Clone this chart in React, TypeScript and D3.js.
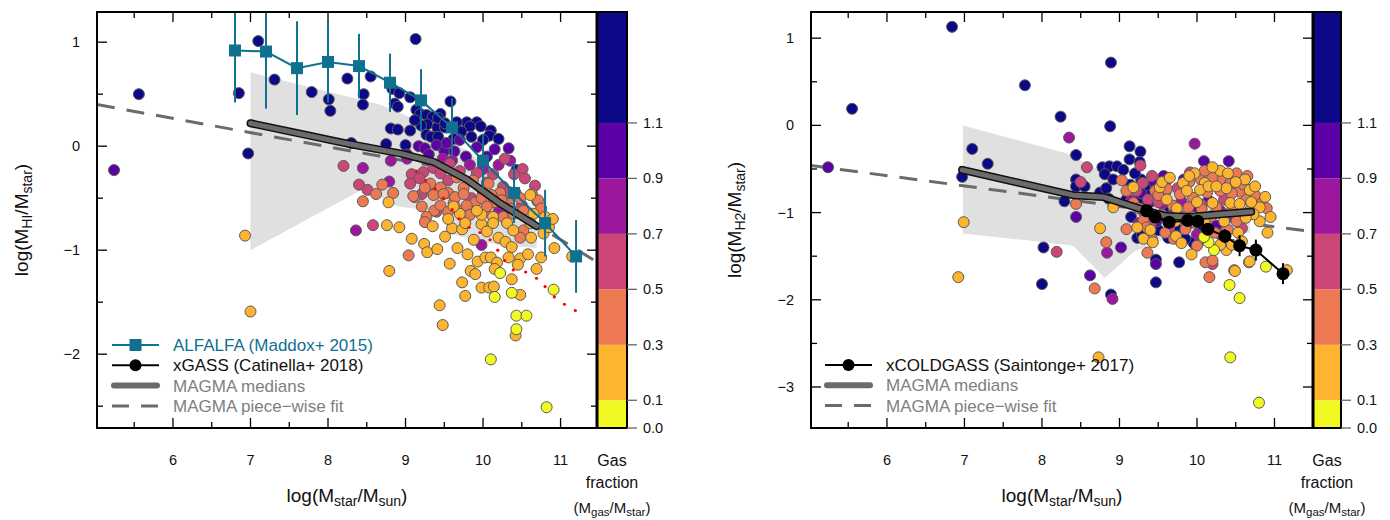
import React from 'react';
import * as d3 from 'd3';

const FONT = '"Liberation Sans", Arial, Helvetica, sans-serif';

// colour bins of the gas fraction bar
const fracBins = [0, 0.1, 0.3, 0.5, 0.7, 0.9, 1.1, 1.5];
const fracTicks = [0.0, 0.1, 0.3, 0.5, 0.7, 0.9, 1.1];
const binColors = d3.range(7).map(i => d3.interpolatePlasma(1 - i / 6));

const xMajor = [6, 7, 8, 9, 10, 11];
const xMinor = [5.5, 6.5, 7.5, 8.5, 9.5, 10.5];

// ---------- HI panel ----------
// [logMstar, logMHI/Mstar, gas fraction]
const hiPoints: number[][] = [
  // navy
  [5.56,0.50,1.3],[7.10,1.01,1.3],[6.85,0.51,1.3],[7.31,0.64,1.3],[7.79,0.52,1.3],[6.97,-0.07,1.3],[8.01,0.45,1.3],[8.03,0.34,1.3],
  [8.25,0.65,1.3],[8.55,0.67,1.3],[8.46,0.50,1.3],[8.45,0.40,1.3],[8.81,0.17,1.3],[8.75,0.02,1.3],[8.30,0.03,1.3],[9.13,1.03,1.3],
  [8.83,0.55,1.3],[8.92,0.51,1.3],[8.86,0.41,1.3],[8.90,0.38,1.3],[9.06,0.47,1.3],[9.14,0.35,1.3],[9.19,0.31,1.3],[9.27,0.30,1.3],
  [9.35,0.28,1.3],[9.45,0.31,1.3],[9.58,0.43,1.3],[9.28,0.21,1.3],[9.41,0.18,1.3],[9.51,0.18,1.3],[9.27,0.11,1.3],[9.33,0.09,1.3],
  [9.42,0.09,1.3],[8.90,0.16,1.3],[9.06,0.15,1.3],[9.00,0.01,1.3],[9.79,0.23,1.3],[9.92,0.23,1.3],[9.83,0.19,1.3],[9.97,0.19,1.3],
  [9.85,0.09,1.3],[10.10,0.15,1.3],[10.08,0.10,1.3],[10.20,0.07,1.3],[10.43,-0.23,1.3],[9.42,0.27,1.3],[9.51,0.22,1.3],[9.66,0.23,1.3],
  [9.72,0.14,1.3],[10.00,0.06,1.3],[9.62,0.07,1.3],[9.20,0.20,1.3],[9.12,0.25,1.3],
  // purple
  [5.24,-0.23,1.0],[9.17,0.00,1.0],[9.25,-0.02,1.0],[9.40,0.01,1.0],[9.50,-0.05,1.0],[9.53,0.03,1.0],[9.70,0.06,1.0],[9.63,-0.05,1.0],
  [9.78,-0.10,1.0],[9.92,-0.01,1.0],[10.05,-0.10,1.0],[10.33,-0.02,1.0],[9.30,-0.08,1.0],[10.15,-0.03,1.0],[9.02,-0.08,1.0],
  // magenta
  [8.45,-0.21,0.8],[8.81,-0.14,0.8],[8.79,-0.34,0.8],[8.36,-0.81,0.8],[9.48,-0.12,0.8],[9.83,-0.18,0.8],[10.20,-0.18,0.8],[10.35,-0.14,0.8],
  [9.02,-0.12,0.8],[10.20,-0.63,0.8],[9.98,-0.95,0.8],[9.60,-0.14,0.8],[10.00,-0.22,0.8],
  // pink
  [8.20,-0.19,0.6],[8.40,-0.37,0.6],[8.51,-0.42,0.6],[8.58,-0.76,0.6],[9.57,-0.17,0.6],[9.36,-0.21,0.6],[9.23,-0.25,0.6],[9.08,-0.27,0.6],
  [9.06,-0.36,0.6],[9.18,-0.31,0.6],[9.45,-0.26,0.6],[9.70,-0.24,0.6],[9.92,-0.26,0.6],[10.13,-0.27,0.6],[10.28,-0.12,0.6],[10.51,-0.22,0.6],
  [10.54,-0.31,0.6],[10.67,-0.38,0.6],[10.26,-0.39,0.6],[10.40,-0.27,0.6],[9.21,-0.46,0.6],[9.85,-0.50,0.6],[10.33,-0.44,0.6],[10.50,-0.57,0.6],
  [9.40,-0.63,0.6],[9.55,-0.33,0.6],[10.05,-0.35,0.6],
  // coral
  [8.62,-0.46,0.4],[8.45,-0.53,0.4],[8.70,-0.37,0.4],[8.84,-0.45,0.4],[9.32,-0.36,0.4],[9.66,-0.30,0.4],[9.87,-0.33,0.4],[10.07,-0.36,0.4],
  [9.12,-0.49,0.4],[9.25,-0.40,0.4],[9.38,-0.46,0.4],[9.45,-0.40,0.4],[9.55,-0.45,0.4],[9.62,-0.55,0.4],[9.75,-0.40,0.4],[9.90,-0.54,0.4],
  [10.00,-0.45,0.4],[10.14,-0.54,0.4],[10.22,-0.45,0.4],[10.33,-0.55,0.4],[10.42,-0.45,0.4],[10.63,-0.46,0.4],[10.70,-0.53,0.4],[9.21,-0.58,0.4],
  [9.37,-0.62,0.4],[9.69,-0.62,0.4],[9.85,-0.63,0.4],[10.02,-0.62,0.4],[9.10,-0.48,0.4],[9.36,-0.47,0.4],[9.49,-0.46,0.4],[9.64,-0.49,0.4],
  [9.75,-0.46,0.4],[9.98,-0.50,0.4],[10.11,-0.47,0.4],[10.24,-0.52,0.4],[10.48,-0.50,0.4],[10.71,-0.52,0.4],[9.27,-0.68,0.4],[9.45,-0.57,0.4],
  [9.55,-0.63,0.4],[9.79,-0.57,0.4],[9.83,-0.66,0.4],[10.05,-0.58,0.4],[10.26,-0.68,0.4],[10.35,-0.60,0.4],[10.39,-0.65,0.4],[10.52,-0.62,0.4],
  [9.25,-0.73,0.4],[10.52,-0.81,0.4],[9.04,-1.05,0.4],[10.48,-0.88,0.4],[10.75,-0.60,0.4],
  // orange
  [6.93,-0.86,0.2],[7.00,-1.59,0.2],[8.78,-0.54,0.2],[8.76,-0.76,0.2],[8.92,-0.78,0.2],[8.79,-1.20,0.2],[9.08,-0.89,0.2],[9.24,-0.94,0.2],
  [9.28,-1.02,0.2],[9.41,-0.99,0.2],[9.57,-1.13,0.2],[9.67,-0.98,0.2],[9.80,-1.04,0.2],[9.51,-0.87,0.2],[9.60,-0.79,0.2],[9.73,-0.80,0.2],
  [9.88,-0.90,0.2],[9.98,-0.75,0.2],[10.05,-0.82,0.2],[10.20,-0.88,0.2],[10.29,-0.92,0.2],[10.37,-0.97,0.2],[9.93,-1.11,0.2],[10.03,-1.07,0.2],
  [10.10,-1.07,0.2],[10.18,-1.12,0.2],[10.33,-1.07,0.2],[10.48,-1.08,0.2],[10.58,-1.04,0.2],[10.45,-1.14,0.2],[10.15,-1.18,0.2],[9.84,-1.20,0.2],
  [9.90,-1.23,0.2],[10.37,-1.28,0.2],[9.73,-1.31,0.2],[9.98,-1.36,0.2],[10.08,-1.36,0.2],[10.14,-1.35,0.2],[9.77,-1.44,0.2],[10.48,-1.43,0.2],
  [10.69,-1.18,0.2],[10.75,-1.07,0.2],[10.92,-0.98,0.2],[9.44,-1.53,0.2],[9.48,-1.72,0.2],[10.42,-1.82,0.2],[11.15,-1.06,0.2],[10.78,-0.84,0.2],
  [10.61,-0.47,0.2],[9.70,-0.65,0.2],[9.98,-0.66,0.2],[10.13,-0.68,0.2],[10.65,-0.65,0.2],[10.80,-0.68,0.2],[9.62,-0.58,0.2],[9.92,-0.62,0.2],
  [9.77,-0.74,0.2],[10.13,-0.74,0.2],[10.31,-0.74,0.2],[10.39,-0.81,0.2],[10.61,-0.74,0.2],[10.62,-0.88,0.2],[10.85,-0.78,0.2],[10.90,-0.70,0.2],
  [9.35,-0.77,0.2],[9.55,-0.70,0.2],
  // yellow
  [10.22,-1.22,0.05],[10.15,-1.45,0.05],[10.37,-1.41,0.05],[10.91,-1.38,0.05],[10.43,-1.63,0.05],[10.56,-1.63,0.05],[10.43,-1.76,0.05],
  [10.10,-2.05,0.05],[10.82,-2.51,0.05],
];

const hiRedDots: number[][] = [
  [9.14,-0.24],[9.26,-0.33],[9.38,-0.41],[9.49,-0.50],[9.60,-0.61],[9.69,-0.70],[9.82,-0.78],[9.96,-0.83],[10.09,-0.90],
  [10.19,-1.00],[10.28,-1.10],[10.39,-1.19],[10.55,-1.21],[10.69,-1.27],[10.80,-1.35],[10.92,-1.45],[11.05,-1.52],[11.19,-1.58],
];

const alfalfaX = [6.8, 7.2, 7.6, 8.0, 8.4, 8.8, 9.2, 9.6, 10.0, 10.4, 10.8, 11.2];
const alfalfaY = [0.92, 0.91, 0.75, 0.81, 0.77, 0.61, 0.44, 0.18, -0.14, -0.45, -0.74, -1.06];
const alfalfaErr = [0.5, 0.55, 0.45, 0.39, 0.31, 0.28, 0.3, 0.28, 0.26, 0.29, 0.32, 0.35];

const hiMedian = [[7.0,0.22],[7.64,0.12],[8.28,0.02],[8.93,-0.07],[9.36,-0.15],[9.79,-0.32],[10.2,-0.54],[10.69,-0.77]];
const hiFit = [[5.02,0.40],[9.5,-0.21],[11.47,-1.115]];
const hiBand = [
  [7.0,0.71],[8.67,0.40],[9.3,0.2],[9.8,-0.05],[10.3,-0.35],[10.69,-0.62],
  [10.69,-0.98],[10.2,-0.95],[9.6,-0.85],[9.45,-0.63],[8.9,-0.58],[8.46,-0.41],[7.0,-1.0],
];

// ---------- H2 panel ----------
const h2Points: number[][] = [
  // navy
  [5.55,0.19,1.3],[6.84,1.13,1.3],[7.78,0.46,1.3],[8.24,0.10,1.3],[7.10,-0.27,1.3],[7.30,-0.44,1.3],[6.97,-0.59,1.3],[8.44,-0.34,1.3],
  [8.44,-0.62,1.3],[8.44,-0.70,1.3],[8.55,-0.70,1.3],[8.29,-0.87,1.3],[8.02,-1.40,1.3],[8.00,-1.82,1.3],[8.89,-1.94,1.3],[9.47,-1.54,1.3],
  [9.47,-1.80,1.3],[9.77,-1.57,1.3],[8.89,0.72,1.3],[8.88,-0.01,1.3],[9.13,-0.24,1.3],[9.27,-0.30,1.3],[9.13,-0.39,1.3],[9.26,-0.42,1.3],
  [8.78,-0.48,1.3],[8.87,-0.47,1.3],[8.97,-0.47,1.3],[9.05,-0.51,1.3],[8.81,-0.56,1.3],[8.92,-0.62,1.3],[8.75,-0.77,1.3],[8.83,-0.72,1.3],
  [8.86,-0.84,1.3],[9.28,-0.62,1.3],[9.14,-0.68,1.3],[9.97,-1.36,1.3],[9.23,-1.29,1.3],[9.09,-0.85,1.3],[9.24,-0.85,1.3],[9.41,-0.87,1.3],
  [9.29,-1.25,1.3],[9.63,-1.29,1.3],[9.74,-1.19,1.3],[9.95,-1.34,1.3],[9.60,-0.95,1.3],[9.72,-1.05,1.3],
  [9.20,-0.55,1.3],[9.35,-0.70,1.3],[9.50,-1.20,1.3],[9.85,-1.30,1.3],[10.05,-1.18,1.3],[9.40,-0.80,1.3],[9.15,-1.05,1.3],
  // purple
  [5.24,-0.48,1.0],[8.44,-1.05,1.0],[8.62,-1.72,1.0],[9.47,-1.59,1.0],[9.02,-1.40,1.0],[10.09,-0.41,1.0],[10.41,-0.41,1.0],[9.57,-0.58,1.0],
  [9.83,-0.62,1.0],[9.16,-0.72,1.0],[9.60,-0.75,1.0],[9.72,-1.00,1.0],[9.90,-1.12,1.0],[9.35,-0.93,1.0],[9.48,-1.10,1.0],[10.15,-0.86,1.0],
  [9.28,-0.78,1.0],[9.65,-1.15,1.0],[9.95,-0.98,1.0],[10.25,-1.15,1.0],[9.45,-0.66,1.0],
  // magenta
  [8.35,-0.14,0.8],[8.91,-1.99,0.8],[8.84,-1.46,0.8],[9.97,-0.21,0.8],[9.15,-0.86,0.8],[9.80,-0.87,0.8],[10.30,-0.98,0.8],[9.70,-0.96,0.8],
  [10.00,-1.25,0.8],[9.40,-1.02,0.8],[9.55,-0.90,0.8],[9.25,-1.12,0.8],[9.85,-1.10,0.8],[10.40,-1.05,0.8],[9.60,-0.64,0.8],
  // pink
  [8.58,-0.48,0.6],[8.50,-0.65,0.6],[8.19,-1.45,0.6],[9.27,-0.46,0.6],[9.91,-0.54,0.6],[10.18,-0.53,0.6],[9.42,-0.58,0.6],[10.20,-1.59,0.6],
  [9.22,-0.75,0.6],[9.37,-0.85,0.6],[9.50,-0.88,0.6],[9.79,-1.04,0.6],[10.06,-0.91,0.6],[9.42,-1.10,0.6],[9.64,-1.20,0.6],[9.32,-1.00,0.6],
  [10.09,-1.31,0.6],[10.30,-1.25,0.6],[9.55,-1.02,0.6],[9.75,-0.72,0.6],[10.35,-0.85,0.6],[10.58,-1.18,0.6],[9.30,-0.66,0.6],
  // coral
  [8.44,-0.90,0.4],[8.68,-1.87,0.4],[10.11,-1.57,0.4],[10.16,-1.74,0.4],[9.03,-0.63,0.4],[8.83,-1.34,0.4],[9.36,-1.46,0.4],[10.45,-0.58,0.4],
  [10.51,-0.55,0.4],[10.30,-0.62,0.4],[10.43,-0.67,0.4],[10.55,-0.76,0.4],[9.09,-0.75,0.4],[9.46,-0.75,0.4],[9.61,-0.73,0.4],[9.78,-0.79,0.4],
  [9.95,-0.83,0.4],[10.13,-0.77,0.4],[10.30,-0.75,0.4],[10.45,-0.78,0.4],[10.64,-0.85,0.4],[10.83,-0.89,0.4],[9.18,-0.89,0.4],[9.69,-0.92,0.4],
  [9.89,-0.94,0.4],[10.06,-0.96,0.4],[10.25,-0.94,0.4],[10.45,-0.98,0.4],[10.68,-0.98,0.4],[9.31,-1.09,0.4],[9.66,-1.06,0.4],[10.19,-1.04,0.4],
  [10.51,-1.10,0.4],[9.09,-1.19,0.4],[9.35,-1.17,0.4],[9.59,-1.23,0.4],[9.85,-1.19,0.4],[10.23,-1.23,0.4],[9.42,-1.31,0.4],[10.20,-1.55,0.4],
  [9.90,-0.65,0.4],[10.05,-0.62,0.4],[10.20,-0.60,0.4],[10.60,-0.68,0.4],[9.98,-1.12,0.4],
  [9.50,-0.80,0.4],[9.70,-1.30,0.4],[10.00,-1.38,0.4],[10.40,-1.20,0.4],[10.75,-0.80,0.4],[10.90,-0.95,0.4],[9.25,-0.95,0.4],[10.10,-0.52,0.4],
  [10.65,-0.58,0.4],
  // orange
  [6.99,-1.11,0.2],[6.92,-1.74,0.2],[8.75,-1.18,0.2],[8.73,-2.66,0.2],[9.93,-1.48,0.2],[10.48,-1.66,0.2],[10.67,-1.57,0.2],[11.16,-1.66,0.2],
  [8.92,-0.94,0.2],[9.82,-0.66,0.2],[10.10,-0.66,0.2],[10.68,-0.74,0.2],[10.81,-0.94,0.2],[10.81,-1.10,0.2],[10.91,-1.23,0.2],[10.68,-1.56,0.2],
  [10.49,-1.67,0.2],[10.53,-1.23,0.2],[10.58,-1.33,0.2],[10.38,-1.43,0.2],[9.31,-1.30,0.2],[9.43,-1.34,0.2],[9.18,-0.71,0.2],[9.52,-0.71,0.2],
  [9.87,-0.75,0.2],[10.04,-0.74,0.2],[10.38,-0.72,0.2],[10.20,-0.89,0.2],[10.43,-0.89,0.2],[10.55,-0.90,0.2],[9.61,-0.85,0.2],[9.74,-0.95,0.2],
  [10.00,-0.88,0.2],[10.73,-1.02,0.2],[9.72,-1.10,0.2],[9.95,-1.05,0.2],[10.35,-1.10,0.2],[10.63,-1.06,0.2],[9.23,-1.17,0.2],[9.73,-1.27,0.2],
  [10.30,-1.37,0.2],[10.45,-1.37,0.2],[9.97,-0.55,0.2],[10.30,-0.52,0.2],[10.62,-0.62,0.2],[10.75,-0.70,0.2],[9.55,-0.65,0.2],[10.15,-0.70,0.2],
  [9.40,-1.20,0.2],[9.80,-1.35,0.2],[10.10,-1.12,0.2],[10.25,-0.70,0.2],[10.50,-0.65,0.2],[10.70,-0.88,0.2],[10.88,-0.82,0.2],[10.20,-0.48,0.2],
  [9.65,-0.60,0.2],[10.40,-0.55,0.2],[9.90,-0.58,0.2],[10.95,-1.05,0.2],
  // yellow
  [10.42,-1.83,0.05],[10.55,-1.98,0.05],[10.89,-1.62,0.05],[10.43,-2.66,0.05],[10.80,-3.18,0.05],[10.22,-1.43,0.05],[10.15,-1.34,0.05],
  [10.09,-1.28,0.05],
];

const xcgX = [9.35, 9.46, 9.64, 9.88, 10.01, 10.14, 10.36, 10.55, 10.76, 11.11];
const xcgY = [-0.98, -1.05, -1.11, -1.09, -1.10, -1.19, -1.27, -1.38, -1.43, -1.70];
const xcgErr = [0.04, 0.05, 0.05, 0.05, 0.06, 0.06, 0.08, 0.12, 0.12, 0.12];

const h2Median = [[6.97,-0.51],[8.40,-0.80],[8.79,-0.82],[9.35,-0.98],[9.6,-1.04],[9.9,-1.05],[10.3,-1.02],[10.7,-0.99]];
const h2Fit = [[5.01,-0.46],[9.0,-0.93],[11.5,-1.22]];
const h2Band = [
  [6.98,0.0],[8.36,-0.33],[8.79,-0.54],[9.5,-0.7],[10.68,-0.95],
  [10.68,-1.23],[9.6,-1.3],[9.2,-1.44],[8.81,-1.75],[8.40,-1.38],[7.72,-1.31],[6.98,-1.24],
];

const TEAL = '#10708f';
const GREY = '#6b6b6b';

function fracColor(f: number) {
  const i = d3.bisectRight(fracBins, f) - 1;
  return binColors[Math.max(0, Math.min(6, i))];
}

const minus = (v: number) => (v < 0 ? '\u2212' + Math.abs(v) : String(v));

function Panel(p: any) {
  const x = d3.scaleLinear().domain(p.xDomain).range([p.x0, p.x1]);
  const y = d3.scaleLinear().domain(p.yDomain).range([p.y1, p.y0]);
  const cb = d3.scaleLinear().domain([0, 1.5]).range([p.y1, p.y0]);
  const line = d3.line<number[]>().x(d => x(d[0])).y(d => y(d[1]));
  const clip = `clip-${p.id}`;
  const yMinor = p.yMinor as number[];
  const cx = (p.x0 + p.x1) / 2;
  const cy = (p.y0 + p.y1) / 2;

  return (
    <g fontFamily={FONT}>
      <defs>
        <clipPath id={clip}><rect x={p.x0} y={p.y0} width={p.x1 - p.x0} height={p.y1 - p.y0} /></clipPath>
      </defs>
      <g clipPath={`url(#${clip})`}>
        <path d={line(p.band) + 'Z'} fill="#e0e0e0" />
        <path d={line(p.fit) || ''} fill="none" stroke={GREY} strokeWidth={3} strokeDasharray="18 12" />
        {p.points.map((d: number[], i: number) => (
          <circle key={i} cx={x(d[0])} cy={y(d[1])} r={5.5} fill={fracColor(d[2])} stroke="#5a5a5a" strokeWidth={1} />
        ))}
        {(p.redDots || []).map((d: number[], i: number) => (
          <circle key={'r' + i} cx={x(d[0])} cy={y(d[1])} r={1.6} fill="#ff0000" />
        ))}
        <path d={line(p.median) || ''} fill="none" stroke="#111" strokeWidth={8} strokeLinecap="round" strokeLinejoin="round" />
        <path d={line(p.median) || ''} fill="none" stroke={GREY} strokeWidth={5} strokeLinecap="round" strokeLinejoin="round" />
        {p.alfalfa && (
          <g>
            <path d={line(alfalfaX.map((v, i) => [v, alfalfaY[i]])) || ''} fill="none" stroke={TEAL} strokeWidth={2} />
            {alfalfaX.map((v, i) => (
              <line key={'e' + i} x1={x(v)} x2={x(v)} y1={y(alfalfaY[i] + alfalfaErr[i])} y2={y(alfalfaY[i] - alfalfaErr[i])} stroke={TEAL} strokeWidth={2} />
            ))}
            {alfalfaX.map((v, i) => (
              <rect key={'s' + i} x={x(v) - 6} y={y(alfalfaY[i]) - 6} width={12} height={12} fill={TEAL} />
            ))}
          </g>
        )}
        {p.xcg && (
          <g>
            <path d={line(xcgX.map((v, i) => [v, xcgY[i]])) || ''} fill="none" stroke="#000" strokeWidth={2} />
            {xcgX.map((v, i) => (
              <line key={'e' + i} x1={x(v)} x2={x(v)} y1={y(xcgY[i] + xcgErr[i])} y2={y(xcgY[i] - xcgErr[i])} stroke="#000" strokeWidth={2} />
            ))}
            {xcgX.map((v, i) => (
              <circle key={'c' + i} cx={x(v)} cy={y(xcgY[i])} r={6.5} fill="#000" />
            ))}
          </g>
        )}
      </g>

      {/* ticks */}
      {xMajor.map(v => (
        <g key={'xm' + v}>
          <line x1={x(v)} x2={x(v)} y1={p.y1} y2={p.y1 - 10} stroke="#000" strokeWidth={1.3} />
          <line x1={x(v)} x2={x(v)} y1={p.y0} y2={p.y0 + 10} stroke="#000" strokeWidth={1.3} />
          <text x={x(v)} y={p.y1 + 37} textAnchor="middle" fontSize={14.5} fill="#111">{v}</text>
        </g>
      ))}
      {xMinor.map(v => (
        <g key={'xn' + v}>
          <line x1={x(v)} x2={x(v)} y1={p.y1} y2={p.y1 - 6} stroke="#000" strokeWidth={1.3} />
          <line x1={x(v)} x2={x(v)} y1={p.y0} y2={p.y0 + 6} stroke="#000" strokeWidth={1.3} />
        </g>
      ))}
      {p.yMajor.map((v: number) => (
        <g key={'ym' + v}>
          <line x1={p.x0} x2={p.x0 + 10} y1={y(v)} y2={y(v)} stroke="#000" strokeWidth={1.3} />
          <line x1={p.x1} x2={p.x1 - 10} y1={y(v)} y2={y(v)} stroke="#000" strokeWidth={1.3} />
          <text x={p.x0 - 17} y={y(v) + 5} textAnchor="end" fontSize={14.5} fill="#111">{minus(v)}</text>
        </g>
      ))}
      {yMinor.map(v => (
        <g key={'yn' + v}>
          <line x1={p.x0} x2={p.x0 + 6} y1={y(v)} y2={y(v)} stroke="#000" strokeWidth={1.3} />
          <line x1={p.x1} x2={p.x1 - 6} y1={y(v)} y2={y(v)} stroke="#000" strokeWidth={1.3} />
        </g>
      ))}
      <rect x={p.x0} y={p.y0} width={p.x1 - p.x0} height={p.y1 - p.y0} fill="none" stroke="#000" strokeWidth={2} />

      {/* colour bar */}
      {fracBins.slice(0, -1).map((b, i) => (
        <rect key={'cb' + i} x={p.x1} y={cb(fracBins[i + 1])} width={p.cbW} height={cb(b) - cb(fracBins[i + 1])} fill={binColors[i]} />
      ))}
      <rect x={p.x1} y={p.y0} width={p.cbW} height={p.y1 - p.y0} fill="none" stroke="#000" strokeWidth={2} />
      <line x1={p.x1} x2={p.x1} y1={p.y0} y2={p.y1} stroke="#000" strokeWidth={3} />
      {fracTicks.map(v => (
        <g key={'ct' + v}>
          <line x1={p.x1 + p.cbW} x2={p.x1 + p.cbW + 10} y1={cb(v)} y2={cb(v)} stroke="#666" strokeWidth={1.3} />
          <text x={p.x1 + p.cbW + 16} y={cb(v) + 5} fontSize={14.5} fill="#111">{v.toFixed(1)}</text>
        </g>
      ))}
      <g textAnchor="middle" fill="#111">
        <text x={p.x1 + p.cbW / 2} y={p.y1 + 38} fontSize={16}>Gas</text>
        <text x={p.x1 + p.cbW / 2} y={p.y1 + 60} fontSize={16}>fraction</text>
        <text x={p.x1 + p.cbW / 2} y={p.y1 + 85} fontSize={15}>(M<tspan fontSize={11.5} dy={2.5}>gas</tspan><tspan dy={-2.5}>/M</tspan><tspan fontSize={11.5} dy={2.5}>star</tspan><tspan dy={-2.5}>)</tspan></text>
      </g>

      {/* axis labels */}
      <text x={cx} y={p.y1 + 74} textAnchor="middle" fontSize={19} fill="#111">
        log(M<tspan fontSize={14} dy={4}>star</tspan><tspan dy={-4}>/M</tspan><tspan fontSize={14} dy={4}>sun</tspan><tspan dy={-4}>)</tspan>
      </text>
      <text transform={`translate(${p.ylabX},${cy}) rotate(-90)`} textAnchor="middle" fontSize={19} fill="#111">
        log(M<tspan fontSize={14} dy={4}>{p.ySub}</tspan><tspan dy={-4}>/M</tspan><tspan fontSize={14} dy={4}>star</tspan><tspan dy={-4}>)</tspan>
      </text>

      {/* legend */}
      {p.legend.map((e: any, i: number) => {
        const ly = p.legY + i * 20.3;
        const lx0 = p.legX;
        const lx1 = p.legX + 47;
        return (
          <g key={'lg' + i}>
            {e.kind === 'alfalfa' && (
              <g>
                <line x1={lx0} x2={lx1} y1={ly} y2={ly} stroke={TEAL} strokeWidth={2} />
                <rect x={(lx0 + lx1) / 2 - 6} y={ly - 6} width={12} height={12} fill={TEAL} />
              </g>
            )}
            {e.kind === 'black' && (
              <g>
                <line x1={lx0} x2={lx1} y1={ly} y2={ly} stroke="#000" strokeWidth={2} />
                <circle cx={(lx0 + lx1) / 2} cy={ly} r={6} fill="#000" />
              </g>
            )}
            {e.kind === 'median' && (
              <line x1={lx0 + 2} x2={lx1 - 2} y1={ly} y2={ly} stroke={GREY} strokeWidth={6} strokeLinecap="round" />
            )}
            {e.kind === 'fit' && (
              <line x1={lx0} x2={lx1} y1={ly} y2={ly} stroke={GREY} strokeWidth={3} strokeDasharray="17 12" />
            )}
            <text x={lx1 + 14} y={ly + 6} fontSize={17} fill={e.color}>{e.label}</text>
          </g>
        );
      })}
    </g>
  );
}

export default function App() {
  return (
    <div style={{ position: 'absolute', left: 0, top: 0, background: '#fff' }}>
      <svg width={1390} height={520} style={{ display: 'block' }}>
        <rect width={1390} height={520} fill="#fff" />
        <Panel
          id="hi"
          x0={97} x1={597} y0={12} y1={428} cbW={30}
          xDomain={[5.02, 11.47]} yDomain={[-2.71, 1.29]}
          yMajor={[-2, -1, 0, 1]} yMinor={[-2.5, -1.5, -0.5, 0.5]}
          points={hiPoints} redDots={hiRedDots} median={hiMedian} fit={hiFit} band={hiBand}
          alfalfa
          ySub="HI" ylabX={28}
          legX={112} legY={345}
          legend={[
            { kind: 'alfalfa', label: 'ALFALFA (Maddox+ 2015)', color: TEAL },
            { kind: 'black', label: 'xGASS (Catinella+ 2018)', color: '#111' },
            { kind: 'median', label: 'MAGMA medians', color: '#808080' },
            { kind: 'fit', label: 'MAGMA piece\u2212wise fit', color: '#808080' },
          ]}
        />
        <Panel
          id="h2"
          x0={811} x1={1313} y0={12} y1={428} cbW={28}
          xDomain={[5.02, 11.497]} yDomain={[-3.47, 1.30]}
          yMajor={[-3, -2, -1, 0, 1]} yMinor={[-2.5, -1.5, -0.5, 0.5]}
          points={h2Points} median={h2Median} fit={h2Fit} band={h2Band}
          xcg
          ySub="H2" ylabX={741}
          legX={825} legY={365}
          legend={[
            { kind: 'black', label: 'xCOLDGASS (Saintonge+ 2017)', color: '#111' },
            { kind: 'median', label: 'MAGMA medians', color: '#808080' },
            { kind: 'fit', label: 'MAGMA piece\u2212wise fit', color: '#808080' },
          ]}
        />
      </svg>
    </div>
  );
}
